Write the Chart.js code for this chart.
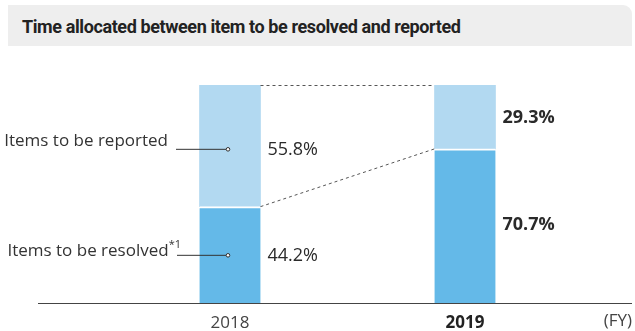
<!DOCTYPE html>
<html>
<head>
<meta charset="utf-8">
<script src="https://cdn.jsdelivr.net/npm/chart.js@4.4.1/dist/chart.umd.min.js"></script>
<style>
  html, body { margin: 0; padding: 0; background: #fff; }
  #wrap { position: relative; width: 635px; height: 331px; }
  #title {
    position: absolute; left: 8px; top: 5px; width: 624px; height: 41px;
    background: #eeeeee; border-top-right-radius: 9px;
    font-family: Roboto, "Open Sans", sans-serif; font-weight: bold; font-size: 18px;
    letter-spacing: -0.4px;
    color: #222; line-height: 43px; padding-left: 14px; box-sizing: border-box;
    white-space: nowrap;
  }
  canvas { position: absolute; left: 0; top: 0; }
</style>
</head>
<body>
<div id="wrap">
  <div id="title">Time allocated between item to be resolved and reported</div>
  <canvas id="chart" width="635" height="331"></canvas>
</div>
<script>
var years = ["2018", "2019"]
var resolved = [44.2, 70.7]
var reported = [55.8, 29.3]
var seriesNames = ["Items to be resolved", "Items to be reported"]
var unitLabel = "(FY)"

var FONT = '"Open Sans", sans-serif'

// labels, connectors and callouts drawn from the bar elements
var overlay = {
  id: "overlay",
  afterDatasetsDraw: function (chart) {
    var ctx = chart.ctx
    var low = chart.getDatasetMeta(0).data
    var high = chart.getDatasetMeta(1).data
    var y = chart.scales.y
    var half = low[0].width / 2

    ctx.save()
    // baseline
    ctx.strokeStyle = "#444"
    ctx.lineWidth = 1
    ctx.beginPath()
    ctx.moveTo(38, y.getPixelForValue(0) + 0.5)
    ctx.lineTo(632, y.getPixelForValue(0) + 0.5)
    ctx.stroke()

    // dashed connectors
    ctx.setLineDash([3, 3])
    ctx.strokeStyle = "#555"
    ctx.beginPath()
    ctx.moveTo(low[0].x + half, high[0].y + 0.5)
    ctx.lineTo(low[1].x - half, high[1].y + 0.5)
    ctx.moveTo(low[0].x + half, low[0].y)
    ctx.lineTo(low[1].x - half, low[1].y)
    ctx.stroke()
    ctx.setLineDash([])

    // value labels
    ctx.fillStyle = "#2a2a2a"
    ctx.textAlign = "left"
    ctx.textBaseline = "middle"
    for (var i = 0; i < years.length; i++) {
      ctx.font = (i == 1 ? "bold " : "") + "18px " + FONT
      var lx = low[i].x + half + 7
      ctx.fillText(reported[i].toFixed(1) + "%", lx, (high[i].y + high[i].base) / 2 + (i == 0 ? 4 : 1))
      ctx.fillText(resolved[i].toFixed(1) + "%", lx, (low[i].y + low[i].base) / 2 + (i == 0 ? 1 : -1))
    }

    // callouts on first bar
    var cx = low[0].x - 2
    var ys = [(high[0].y + high[0].base) / 2 + 3, (low[0].y + low[0].base) / 2]
    var starts = [cx - 52, cx - 51]
    ctx.strokeStyle = "#333"
    ctx.lineWidth = 1
    for (var k = 0; k < 2; k++) {
      ctx.beginPath()
      ctx.moveTo(starts[k], ys[k] + 0.5)
      ctx.lineTo(cx - 2, ys[k] + 0.5)
      ctx.stroke()
      ctx.beginPath()
      ctx.arc(cx, ys[k] + 0.5, 1.8, 0, Math.PI * 2)
      ctx.fillStyle = "#fff"
      ctx.fill()
      ctx.stroke()
    }
    ctx.fillStyle = "#333"
    ctx.textBaseline = "alphabetic"
    ctx.textAlign = "right"
    ctx.font = "17px " + FONT
    ctx.fillText(seriesNames[1], starts[0] - 8, ys[0] - 3)
    ctx.font = "11px " + FONT
    ctx.fillText("*1", starts[1] + 4, ys[1] - 7)
    var supW = ctx.measureText("*1").width
    ctx.font = "17px " + FONT
    ctx.fillText(seriesNames[0], starts[1] + 4 - supW, ys[1] + 1)

    // unit
    ctx.textBaseline = "middle"
    ctx.font = "17px " + FONT
    ctx.fillStyle = "#444"
    ctx.fillText(unitLabel, 632, 321)
    ctx.restore()
  }
}

new Chart(document.getElementById("chart"), {
  type: "bar",
  data: {
    labels: years,
    datasets: [
      {
        label: seriesNames[0],
        data: resolved,
        backgroundColor: "#64b9e8",
        borderColor: "#ffffff",
        borderWidth: {top: 2, left: 0, right: 0, bottom: 0},
        borderSkipped: false,
        barThickness: 61
      },
      {
        label: seriesNames[1],
        data: reported,
        backgroundColor: "#b2d9f1",
        borderWidth: 0,
        barThickness: 61
      }
    ]
  },
  options: {
    responsive: false,
    animation: false,
    layout: {padding: {top: 85, left: 112.5, right: 52.5, bottom: 0}},
    plugins: {legend: {display: false}, tooltip: {enabled: false}},
    scales: {
      x: {
        stacked: true,
        afterFit: function (scale) { scale.height = 28 },
        grid: {display: false, drawTicks: false},
        border: {display: false},
        ticks: {
          padding: 10,
          color: function (c) { return c.index == 1 ? "#222" : "#444" },
          font: function (c) {
            return {family: FONT, size: 17, weight: c.index == 1 ? "bold" : "normal"}
          }
        }
      },
      y: {
        stacked: true,
        display: false,
        min: 0,
        max: 100
      }
    }
  },
  plugins: [overlay]
})
</script>
</body>
</html>
